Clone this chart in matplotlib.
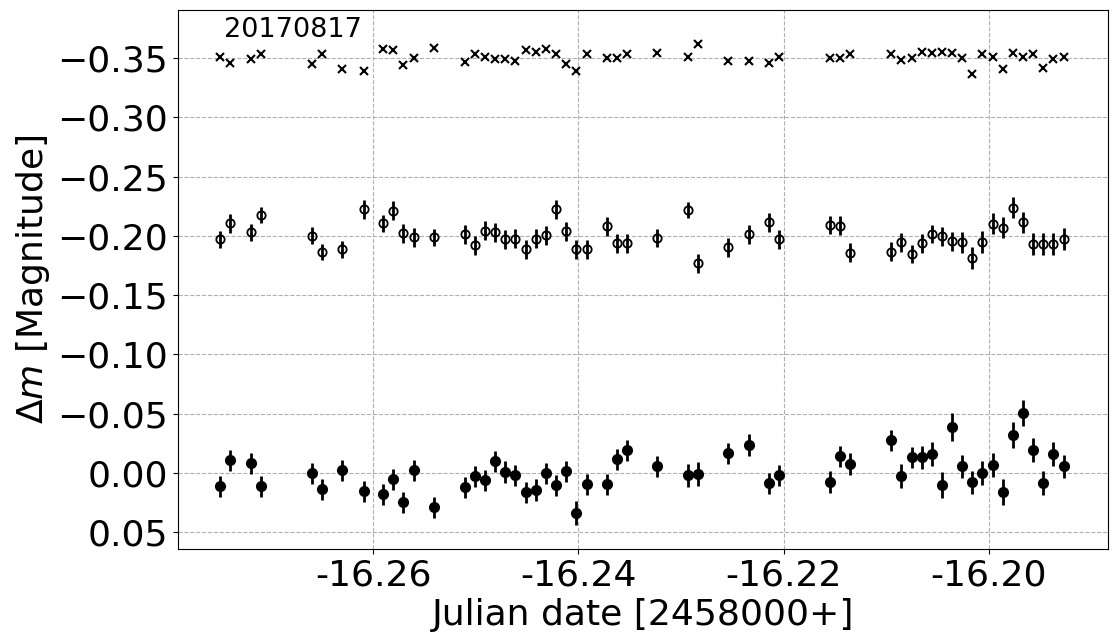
import matplotlib
matplotlib.use('Agg')
import matplotlib.pyplot as plt

# observation times (JD - 2458000), same for all three series
jd = [-16.27488, -16.27390, -16.27186, -16.27089, -16.26593, -16.26496, -16.26301,
      -16.26093, -16.25899, -16.25802, -16.25704, -16.25601, -16.25407, -16.25106,
      -16.25008, -16.24911, -16.24814, -16.24717, -16.24619, -16.24512, -16.24415,
      -16.24318, -16.24221, -16.24124, -16.24019, -16.23919, -16.23725, -16.23628,
      -16.23530, -16.23229, -16.22930, -16.22833, -16.22542, -16.22334, -16.22140,
      -16.22043, -16.21550, -16.21453, -16.21355, -16.20954, -16.20857, -16.20752,
      -16.20655, -16.20558, -16.20461, -16.20364, -16.20260, -16.20162, -16.20065,
      -16.19962, -16.19865, -16.19761, -16.19664, -16.19566, -16.19469, -16.19372,
      -16.19268]

# comparison star (x markers)
dm_comp = [-0.3506, -0.3455, -0.3492, -0.3531, -0.3449, -0.3531, -0.3405, -0.3388,
           -0.3574, -0.3568, -0.3439, -0.3498, -0.3582, -0.3464, -0.3531, -0.3506,
           -0.3492, -0.3492, -0.3472, -0.3568, -0.3548, -0.3574, -0.3531, -0.3447,
           -0.3388, -0.3531, -0.3498, -0.3498, -0.3531, -0.3545, -0.3511, -0.3616,
           -0.3475, -0.3475, -0.3455, -0.3506, -0.3498, -0.3498, -0.3536, -0.3531,
           -0.3486, -0.3498, -0.3548, -0.3542, -0.3553, -0.3542, -0.3498, -0.3365,
           -0.3531, -0.3506, -0.3410, -0.3542, -0.3506, -0.3531, -0.3413, -0.3492,
           -0.3506]
err_comp = [0.001] * len(jd)

# check star (open circles)
dm_check = [-0.1970, -0.2105, -0.2029, -0.2175, -0.2000, -0.1863, -0.1886, -0.2223,
            -0.2105, -0.2211, -0.2021, -0.1987, -0.1987, -0.2012, -0.1919, -0.2043,
            -0.2029, -0.1970, -0.1975, -0.1886, -0.1975, -0.2004, -0.2223, -0.2038,
            -0.1886, -0.1886, -0.2080, -0.1936, -0.1936, -0.1981, -0.2217, -0.1768,
            -0.1903, -0.2012, -0.2113, -0.1970, -0.2091, -0.2085, -0.1857, -0.1865,
            -0.1947, -0.1846, -0.1936, -0.2015, -0.1995, -0.1953, -0.1945, -0.1812,
            -0.1947, -0.2102, -0.2068, -0.2237, -0.2113, -0.1930, -0.1930, -0.1930,
            -0.1973]
err_check = [0.007, 0.008, 0.007, 0.007, 0.007, 0.007, 0.007, 0.008, 0.007, 0.008,
             0.008, 0.008, 0.007, 0.008, 0.008, 0.008, 0.008, 0.008, 0.008, 0.008,
             0.008, 0.008, 0.008, 0.008, 0.008, 0.008, 0.008, 0.008, 0.008, 0.008,
             0.007, 0.008, 0.008, 0.008, 0.008, 0.008, 0.008, 0.008, 0.008, 0.008,
             0.008, 0.008, 0.008, 0.008, 0.008, 0.008, 0.009, 0.009, 0.009, 0.009,
             0.009, 0.009, 0.009, 0.009, 0.009, 0.009, 0.009]

# target (filled circles)
dm_target = [0.0114, -0.0105, -0.0080, 0.0114, 0.0005, 0.0140, -0.0021, 0.0157,
             0.0182, 0.0055, 0.0249, -0.0021, 0.0292, 0.0123, 0.0030, 0.0064,
             -0.0097, -0.0006, 0.0022, 0.0165, 0.0146, 0.0005, 0.0106, -0.0012,
             0.0342, 0.0098, 0.0098, -0.0114, -0.0190, -0.0054, 0.0022, 0.0013,
             -0.0164, -0.0234, 0.0089, 0.0022, 0.0078, -0.0139, -0.0074, -0.0274,
             0.0030, -0.0130, -0.0130, -0.0158, 0.0106, -0.0384, -0.0054, 0.0081,
             0.0002, -0.0063, 0.0165, -0.0316, -0.0502, -0.0190, 0.0089, -0.0156,
             -0.0054]
err_target = [0.009, 0.009, 0.009, 0.009, 0.009, 0.009, 0.009, 0.009, 0.009, 0.009,
              0.009, 0.009, 0.009, 0.009, 0.009, 0.009, 0.009, 0.009, 0.009, 0.009,
              0.009, 0.009, 0.009, 0.009, 0.010, 0.009, 0.009, 0.009, 0.009, 0.009,
              0.010, 0.010, 0.009, 0.009, 0.009, 0.009, 0.009, 0.009, 0.009, 0.009,
              0.010, 0.009, 0.010, 0.010, 0.011, 0.012, 0.010, 0.010, 0.010, 0.010,
              0.011, 0.011, 0.011, 0.010, 0.010, 0.010, 0.010]

xticks = [-16.26, -16.24, -16.22, -16.20]
xticklabels = ['-16.26', '-16.24', '-16.22', '-16.20']
yticks = [-0.35, -0.30, -0.25, -0.20, -0.15, -0.10, -0.05, 0.00, 0.05]

fig, ax = plt.subplots(figsize=(11.17, 6.42), dpi=100)
fig.subplots_adjust(left=0.1594, right=0.9919, top=0.9844, bottom=0.1449)

ax.errorbar(jd, dm_comp, yerr=err_comp, fmt='x', color='black', ms=6, mew=1.5,
            elinewidth=1.5)
ax.errorbar(jd, dm_check, yerr=err_check, fmt='o', mfc='none', mec='black',
            color='black', ms=6, mew=1.3, elinewidth=2)
ax.errorbar(jd, dm_target, yerr=err_target, fmt='o', color='black', ms=7,
            elinewidth=2)

ax.text(-16.2745, -0.368, '20170817', fontsize=19.5)

ax.set_xlim(-16.279, -16.1884)
ax.set_ylim(0.0643, -0.3905)
ax.set_xticks(xticks)
ax.set_xticklabels(xticklabels)
ax.set_yticks(yticks)
ax.tick_params(labelsize=26)
ax.set_xlabel('Julian date [2458000+]', fontsize=26)
ax.set_ylabel(r'$\Delta m$ [Magnitude]', fontsize=26)
ax.grid(True, linestyle='--', color='#b0b0b0')

plt.savefig('out.png', dpi=100)
